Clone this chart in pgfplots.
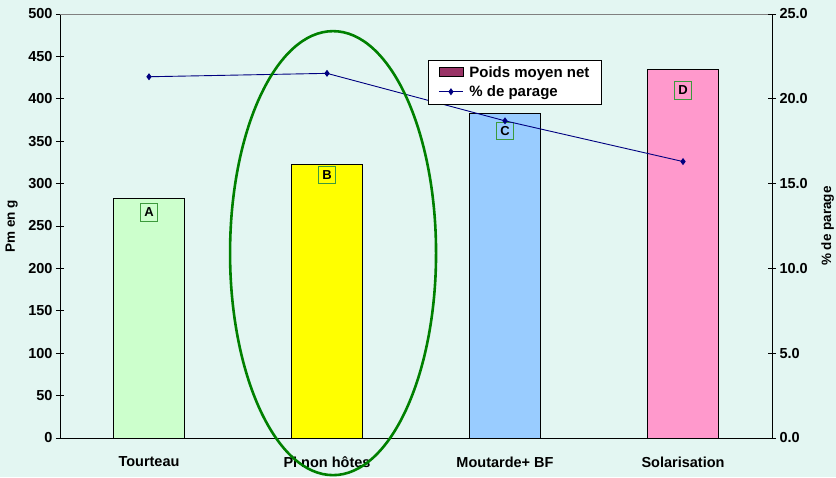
\documentclass[border=0pt]{standalone}
\usepackage{pgfplots}
\pgfplotsset{compat=1.18}
\usepackage{fontspec}
\setmainfont{Liberation Sans}
\definecolor{bg}{HTML}{E3F6F2}
\definecolor{barA}{HTML}{CCFFCC}
\definecolor{barB}{HTML}{FFFF00}
\definecolor{barC}{HTML}{99CCFF}
\definecolor{barD}{HTML}{FF99CC}
\definecolor{legmag}{HTML}{993366}
\definecolor{navy}{HTML}{000080}
\definecolor{circ}{HTML}{008000}
\definecolor{lblframe}{HTML}{3C9A3C}
\begin{document}
\begin{tikzpicture}[font=\bfseries,
  lbl/.style={draw=lblframe, line width=0.9pt, inner sep=0pt, minimum size=17.5pt,
    font=\bfseries\fontsize{13}{14}\selectfont}]
\fill[bg] (-60pt,-39pt) rectangle (776pt,438pt);
\useasboundingbox (-60pt,-39pt) rectangle (776pt,438pt);
\pgfplotsset{
  base/.style={at={(0pt,0pt)}, anchor=south west, scale only axis,
    width=712pt, height=424pt, xmin=-0.5, xmax=3.5, clip=false,
    tick align=center, major tick length=8pt,
    ticklabel style={font=\bfseries\fontsize{14.5}{16}\selectfont},
    /pgf/number format/assume math mode=true,
    axis line style={black, line width=0.8pt},
    major tick style={black, line width=0.8pt}}
}
\begin{axis}[base,
  ymin=0, ymax=500, ytick={0,50,...,500},
  axis x line*=bottom, axis y line*=left,
  xtick={0,1,2,3},
  xticklabels={Tourteau, Pl non hôtes, Moutarde+ BF, Solarisation},
  x tick style={draw=none},
  minor xtick={-0.5,0.5,1.5,2.5,3.5},
  minor tick style={black, line width=0.8pt},
  minor tick length=9pt,
  xticklabel style={yshift=-7pt, font=\bfseries\fontsize{14.5}{16}\selectfont},
  ylabel={Pm en g},
  every axis y label/.style={at={(axis description cs:-0.068,0.5)}, rotate=90,
    anchor=center, font=\bfseries\fontsize{13.5}{15}\selectfont},
  ybar, bar width=71pt, bar shift=0pt]
\addplot[fill=barA, draw=black, line width=0.6pt] coordinates {(0,283)};
\addplot[fill=barB, draw=black, line width=0.6pt] coordinates {(1,323)};
\addplot[fill=barC, draw=black, line width=0.6pt] coordinates {(2,383)};
\addplot[fill=barD, draw=black, line width=0.6pt] coordinates {(3,435)};
\draw[gray, line width=0.8pt] (axis cs:-0.5,500) -- (axis cs:3.5,500);
\node[lbl, fill=barA] at (axis cs:0,266) {A};
\node[lbl, fill=barB] at (axis cs:1,310) {B};
\node[lbl, fill=barC] at (axis cs:2,362) {C};
\node[lbl, fill=barD] at (axis cs:3,410) {D};
\coordinate (ec) at (axis cs:1.034,218);
\end{axis}
\begin{axis}[base,
  ymin=0, ymax=25, ytick={0,5,...,25},
  axis x line=none, axis y line*=right,
  yticklabel style={/pgf/number format/.cd, fixed, fixed zerofill, precision=1},
  ylabel={\% de parage},
  every axis y label/.style={at={(axis description cs:1.078,0.5)}, rotate=90,
    anchor=center, font=\bfseries\fontsize{13.5}{15}\selectfont},
  legend style={at={(0.517,0.892)}, anchor=north west, draw=black, fill=white,
    line width=0.8pt, font=\bfseries\fontsize{15}{17}\selectfont,
    inner xsep=10pt, inner ysep=4pt, row sep=3pt, column sep=4pt},
  legend cell align=left]
\addlegendimage{legend image code/.code={
  \draw[fill=legmag, draw=black, line width=0.8pt] (0pt,-4.5pt) rectangle (24pt,4.5pt);}}
\addlegendentry{Poids moyen net}
\addplot[navy, line width=0.9pt, mark=diamond*, mark size=2.8pt,
  legend image code/.code={
    \draw[navy, line width=0.9pt] (0pt,0pt) -- (24pt,0pt);
    \fill[navy] (12pt,0pt) +(0,2.8pt) -- +(2pt,0) -- +(0,-2.8pt) -- +(-2pt,0) -- cycle;}]
  coordinates {(0,21.3) (1,21.5) (2,18.7) (3,16.3)};
\addlegendentry{\% de parage}
\end{axis}
\draw[circ, line width=2.6pt] (ec) ellipse [x radius=103pt, y radius=222pt];
\end{tikzpicture}
\end{document}
